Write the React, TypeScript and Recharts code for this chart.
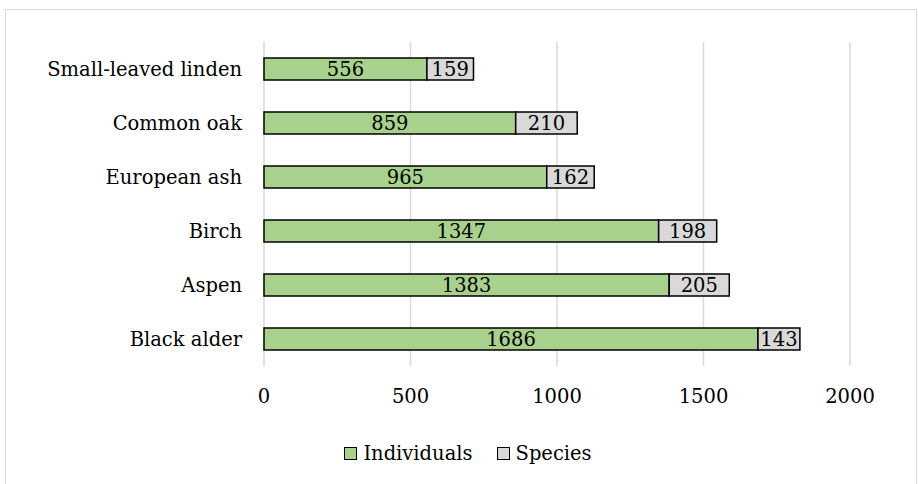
import { BarChart, Bar, XAxis, YAxis, CartesianGrid, Legend, LabelList } from 'recharts';

const categories = ['Small-leaved linden', 'Common oak', 'European ash', 'Birch', 'Aspen', 'Black alder'];
const individuals = [556, 859, 965, 1347, 1383, 1686];
const species = [159, 210, 162, 198, 205, 143];
const xTicks = [0, 500, 1000, 1500, 2000];

const FONT = '"DejaVu Serif", serif';
const SIZE = 19.5;
const GREEN = '#a9d18e';
const GREY = '#d9d9d9';

const data = categories.map((name, i) => ({
  name,
  individuals: individuals[i],
  species: species[i],
}));

function LegendContent() {
  const items = [
    { label: 'Individuals', color: GREEN },
    { label: 'Species', color: GREY },
  ];
  return (
    <div style={{ height: 30, paddingLeft: 86, display: 'flex', justifyContent: 'center', alignItems: 'center', gap: 24, fontFamily: FONT, fontSize: SIZE, color: '#000' }}>
      {items.map(it => (
        <div key={it.label} style={{ display: 'flex', alignItems: 'center' }}>
          <span style={{ display: 'inline-block', width: 11, height: 11, background: it.color, border: '1.5px solid #000', marginRight: 6 }} />
          <span>{it.label}</span>
        </div>
      ))}
    </div>
  );
}

export default function App() {
  return (
    <div style={{ position: 'absolute', left: 0, top: 0, width: 918, height: 484, overflow: 'hidden', background: '#fff' }}>
      <div style={{ position: 'absolute', left: 5, top: 9, width: 910, height: 500, border: '1.5px solid #d9d9d9' }} />
      <div style={{ position: 'absolute', left: 0, top: 0 }}>
        <BarChart
          width={918}
          height={484}
          data={data}
          layout="vertical"
          margin={{ top: 42, right: 68, bottom: 16, left: 0 }}
          barSize={22}
        >
          <CartesianGrid horizontal={false} stroke="#d9d9d9" strokeWidth={1.5} />
          <XAxis
            type="number"
            domain={[0, 2000]}
            ticks={xTicks}
            axisLine={false}
            tickLine={false}
            tickSize={0}
            tickMargin={23}
            height={72}
            tick={{ fill: '#000', fontSize: SIZE, fontFamily: FONT }}
          />
          <YAxis
            type="category"
            dataKey="name"
            width={264}
            axisLine={false}
            tickLine={false}
            tickSize={0}
            tickMargin={22}
            tick={{ fill: '#000', fontSize: SIZE, fontFamily: FONT }}
          />
          <Legend verticalAlign="bottom" content={<LegendContent />} />
          <Bar dataKey="individuals" stackId="a" fill={GREEN} stroke="#000" strokeWidth={1.5} isAnimationActive={false}>
            <LabelList dataKey="individuals" position="center" fill="#000" style={{ fontSize: SIZE, fontFamily: FONT }} />
          </Bar>
          <Bar dataKey="species" stackId="a" fill={GREY} stroke="#000" strokeWidth={1.5} isAnimationActive={false}>
            <LabelList dataKey="species" position="center" fill="#000" style={{ fontSize: SIZE, fontFamily: FONT }} />
          </Bar>
        </BarChart>
      </div>
    </div>
  );
}
